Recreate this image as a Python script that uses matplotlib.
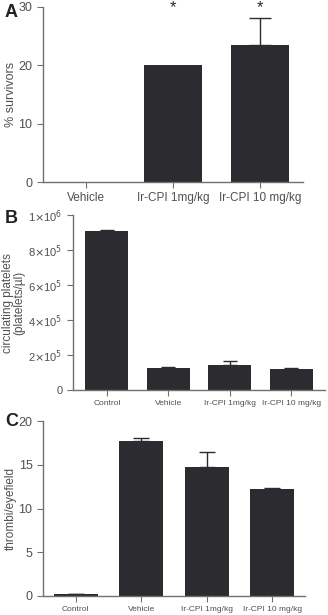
import matplotlib.pyplot as plt
from matplotlib.ticker import FixedLocator

plt.rcParams['font.family'] = ['Liberation Sans', 'DejaVu Sans']

# panel A: survival
a_groups = ['Vehicle', 'Ir-CPI 1mg/kg', 'Ir-CPI 10 mg/kg']
a_mean = [0, 20, 23.4]
a_err = [0, 0, 4.7]
a_star = [False, True, True]

# panel B: circulating platelets
b_groups = ['Control', 'Vehicle', 'Ir-CPI 1mg/kg', 'Ir-CPI 10 mg/kg']
b_mean = [9.1e5, 1.28e5, 1.42e5, 1.18e5]
b_err = [0.05e5, 0.04e5, 0.23e5, 0.06e5]
b_ticks = [0, 2e5, 4e5, 6e5, 8e5, 1e6]
b_ticklabels = ['0', r'2$\times$10$^5$', r'4$\times$10$^5$', r'6$\times$10$^5$',
                r'8$\times$10$^5$', r'1$\times$10$^6$']

# panel C: thrombi
c_groups = ['Control', 'Vehicle', 'Ir-CPI 1mg/kg', 'Ir-CPI 10 mg/kg']
c_mean = [0.25, 17.7, 14.8, 12.25]
c_err = [0.0, 0.4, 1.7, 0.15]

bar_col = '#2b2b30'
txt_col = '#505050'
ax_col = '#707070'


def style(ax):
    for s in ['top', 'right']:
        ax.spines[s].set_visible(False)
    for s in ['left', 'bottom']:
        ax.spines[s].set_color(ax_col)
        ax.spines[s].set_linewidth(1.0)
    ax.tick_params(colors=ax_col, labelcolor=txt_col, direction='out', length=4)


fig = plt.figure(figsize=(3.28, 6.15), dpi=100)

# A
ax = fig.add_axes([0.131, 0.704, 0.793, 0.285])
xa = range(len(a_groups))
ax.bar(xa, a_mean, width=0.67, color=bar_col)
ax.errorbar([2], [a_mean[2]], yerr=[[0], [a_err[2]]], fmt='none', ecolor=bar_col,
            elinewidth=1, capsize=8, capthick=1)
for i, s in enumerate(a_star):
    if s:
        ax.text(i, 28.6, '*', ha='center', va='bottom', fontsize=12, color=bar_col)
ax.set_xlim(-0.5, 2.5)
ax.set_ylim(0, 30)
ax.set_yticks([0, 10, 20, 30])
ax.set_xticks(list(xa))
ax.set_xticklabels(a_groups, fontsize=8.5)
ax.tick_params(axis='y', labelsize=9)
ax.set_ylabel('% survivors', fontsize=9, color=txt_col)
ax.yaxis.set_label_coords(-0.1, 0.5)
style(ax)
fig.text(0.015, 0.98, 'A', fontsize=13, fontweight='bold', color='#222222', va='center')

# B
ax = fig.add_axes([0.223, 0.366, 0.768, 0.284])
xb = range(len(b_groups))
ax.bar(xb, b_mean, width=0.7, color=bar_col)
ax.errorbar(list(xb), b_mean, yerr=[[0] * 4, b_err], fmt='none', ecolor=bar_col,
            elinewidth=1, capsize=5, capthick=1)
ax.set_xlim(-0.55, 3.55)
ax.set_ylim(0, 1e6)
ax.yaxis.set_major_locator(FixedLocator(b_ticks))
ax.set_yticklabels(b_ticklabels, fontsize=8)
ax.set_xticks(list(xb))
ax.set_xticklabels(b_groups, fontsize=6)
ax.set_ylabel('circulating platelets\n(platelets/\u00b5l)', fontsize=8.5, color=txt_col,
              linespacing=0.95)
ax.yaxis.set_label_coords(-0.19, 0.5)
style(ax)
fig.text(0.015, 0.645, 'B', fontsize=13, fontweight='bold', color='#222222', va='center')

# C
ax = fig.add_axes([0.131, 0.031, 0.799, 0.284])
xc = range(len(c_groups))
ax.bar(xc, c_mean, width=0.67, color=bar_col)
ax.errorbar(list(xc), c_mean, yerr=[[0] * 4, c_err], fmt='none', ecolor=bar_col,
            elinewidth=1, capsize=6, capthick=1)
ax.set_xlim(-0.5, 3.5)
ax.set_ylim(0, 20)
ax.set_yticks([0, 5, 10, 15, 20])
ax.set_xticks(list(xc))
ax.set_xticklabels(c_groups, fontsize=6)
ax.tick_params(axis='y', labelsize=9)
ax.set_ylabel('thrombi/eyefield', fontsize=8.5, color=txt_col)
ax.yaxis.set_label_coords(-0.1, 0.5)
style(ax)
fig.text(0.015, 0.315, 'C', fontsize=13, fontweight='bold', color='#222222', va='center')

fig.savefig('out.png', dpi=100)
